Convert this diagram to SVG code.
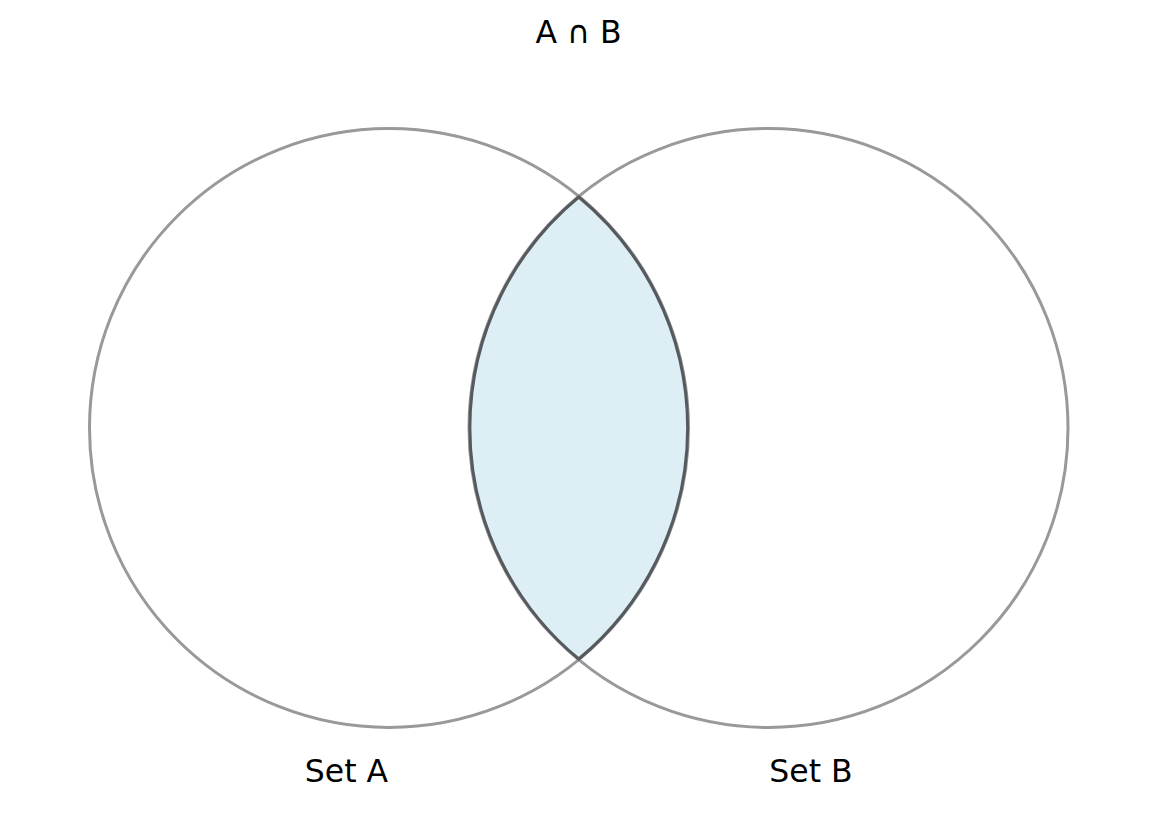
<svg xmlns="http://www.w3.org/2000/svg" width="1157" height="817" viewBox="0 0 1157 817">
<style>
.set{fill:none;stroke:#999999;stroke-width:3}
.lens{fill:#ddeef5;stroke:#555a5e;stroke-width:3}
.lbl{font-family:"DejaVu Sans",sans-serif;font-size:31.5px;fill:#000;text-anchor:middle}
</style>
<rect width="1157" height="817" fill="#ffffff"/>
<g id="setA"><circle class="set" cx="389" cy="428" r="299.5"/></g>
<g id="setB"><circle class="set" cx="768.5" cy="428" r="299.5"/></g>
<g id="intersection"><path class="lens" d="M578.75 197 A299.5 299.5 0 0 1 578.75 659 A299.5 299.5 0 0 1 578.75 197 Z"/></g>
<g id="labels">
<text class="lbl" x="578.5" y="43">A ∩ B</text>
<text class="lbl" x="346.5" y="782">Set A</text>
<text class="lbl" x="811" y="782">Set B</text>
</g>
</svg>
